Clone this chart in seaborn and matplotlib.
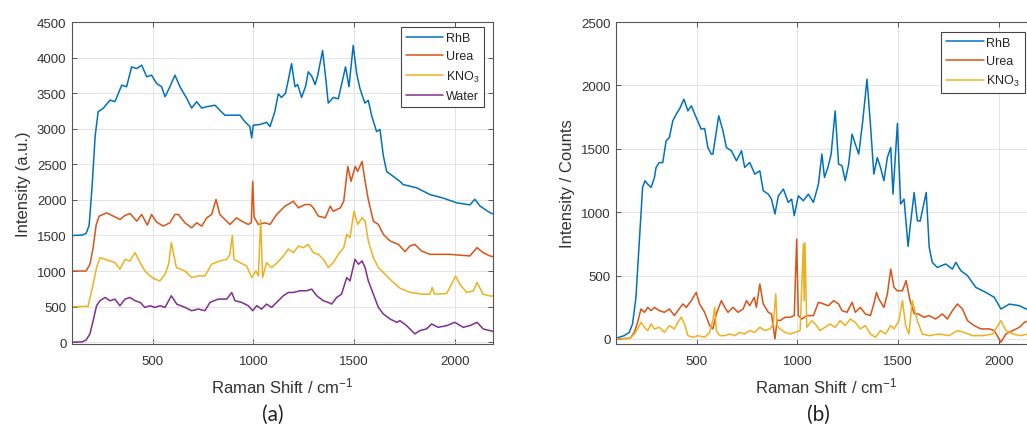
import numpy as np
import pandas as pd
import matplotlib
matplotlib.use("Agg")
import matplotlib.pyplot as plt
import seaborn as sns

# ---------------- Panel (a) data ----------------
shift_a_rhb = [100, 150, 170, 185, 200, 215, 230, 255, 289, 313, 347, 371, 396, 421, 446, 471, 495, 520, 545, 562, 586, 611, 636, 669, 694, 719, 744, 769, 810, 834, 859, 884, 934, 958, 983, 992, 1000, 1033, 1066, 1083, 1107, 1124, 1140, 1160, 1175, 1190, 1207, 1220, 1240, 1260, 1273, 1290, 1307, 1320, 1344, 1360, 1372, 1397, 1422, 1438, 1458, 1475, 1496, 1513, 1529, 1554, 1571, 1587, 1612, 1629, 1645, 1662, 1695, 1728, 1744, 1811, 1877, 1943, 2009, 2075, 2100, 2125, 2175, 2195]
int_a_rhb = [1500, 1505, 1530, 1640, 2200, 2900, 3240, 3287, 3403, 3380, 3613, 3590, 3869, 3846, 3893, 3730, 3753, 3636, 3590, 3450, 3590, 3753, 3590, 3430, 3290, 3380, 3290, 3310, 3330, 3260, 3190, 3190, 3190, 3100, 3030, 2870, 3050, 3060, 3090, 3030, 3240, 3490, 3440, 3500, 3700, 3915, 3590, 3620, 3440, 3600, 3800, 3740, 3620, 3750, 4100, 3700, 3360, 3440, 3420, 3620, 3870, 3590, 4170, 3780, 3570, 3360, 3400, 3190, 2960, 2990, 2630, 2400, 2330, 2260, 2215, 2170, 2075, 2025, 1960, 1930, 2010, 1915, 1820, 1800]

shift_a_urea = [100, 170, 189, 205, 220, 235, 272, 305, 338, 363, 388, 421, 446, 474, 495, 520, 553, 586, 611, 628, 661, 694, 719, 744, 769, 793, 815, 834, 859, 884, 917, 942, 975, 990, 997, 1004, 1025, 1058, 1083, 1116, 1157, 1199, 1224, 1257, 1282, 1298, 1323, 1357, 1382, 1397, 1432, 1449, 1469, 1485, 1506, 1518, 1540, 1555, 1571, 1596, 1621, 1646, 1679, 1721, 1753, 1777, 1802, 1835, 1877, 1976, 2075, 2111, 2141, 2175, 2195]
int_a_urea = [1000, 1000, 1096, 1329, 1650, 1772, 1818, 1772, 1725, 1781, 1809, 1702, 1795, 1646, 1795, 1688, 1632, 1678, 1795, 1795, 1678, 1608, 1678, 1632, 1748, 1795, 2005, 1795, 1725, 1655, 1748, 1702, 1655, 1680, 2261, 1760, 1655, 1678, 1655, 1795, 1911, 1981, 1888, 1935, 1935, 1888, 1772, 1748, 1911, 1841, 1888, 1981, 2471, 2261, 2471, 2401, 2541, 2261, 2005, 1702, 1655, 1515, 1422, 1375, 1273, 1352, 1375, 1282, 1235, 1235, 1212, 1329, 1259, 1212, 1200]

shift_a_kno3 = [100, 180, 205, 222, 239, 264, 289, 313, 338, 363, 388, 413, 438, 462, 487, 512, 537, 562, 580, 593, 618, 661, 677, 694, 727, 760, 793, 834, 868, 884, 896, 904, 934, 967, 992, 1013, 1025, 1037, 1046, 1066, 1090, 1120, 1149, 1174, 1199, 1224, 1249, 1273, 1298, 1323, 1348, 1372, 1397, 1422, 1449, 1464, 1480, 1500, 1518, 1540, 1555, 1571, 1596, 1621, 1654, 1695, 1728, 1777, 1843, 1877, 1888, 1900, 1960, 1984, 2004, 2025, 2059, 2092, 2111, 2141, 2175, 2195]
int_a_kno3 = [500, 505, 816, 1049, 1189, 1165, 1142, 1119, 1026, 1165, 1142, 1259, 1119, 1002, 932, 886, 862, 956, 1100, 1399, 1049, 1002, 956, 909, 932, 932, 1096, 1142, 1165, 1235, 1500, 1165, 1119, 1072, 909, 1002, 932, 1720, 909, 1119, 1049, 1119, 1210, 1310, 1259, 1352, 1329, 1375, 1259, 1235, 1165, 1049, 1119, 1235, 1329, 1515, 1469, 1841, 1655, 1748, 1702, 1422, 1189, 1049, 956, 840, 760, 700, 675, 675, 770, 675, 685, 815, 930, 815, 700, 720, 840, 675, 650, 650]

shift_a_water = [100, 150, 170, 189, 205, 222, 239, 264, 289, 313, 338, 363, 388, 413, 438, 462, 487, 512, 537, 562, 593, 620, 661, 694, 727, 760, 785, 826, 868, 893, 909, 942, 975, 997, 1017, 1041, 1066, 1091, 1116, 1149, 1174, 1199, 1232, 1265, 1290, 1315, 1348, 1372, 1389, 1414, 1438, 1464, 1480, 1505, 1522, 1540, 1555, 1571, 1596, 1621, 1646, 1679, 1712, 1728, 1761, 1802, 1827, 1860, 1885, 1918, 1960, 2000, 2042, 2075, 2111, 2141, 2175, 2195]
int_a_water = [0, 5, 30, 117, 303, 513, 583, 629, 583, 606, 513, 606, 629, 583, 560, 489, 513, 489, 513, 489, 653, 536, 489, 443, 466, 443, 560, 606, 606, 699, 583, 560, 513, 443, 513, 466, 536, 489, 560, 653, 699, 699, 723, 723, 746, 653, 583, 560, 536, 629, 676, 909, 862, 1165, 1096, 1142, 1049, 862, 676, 489, 396, 326, 280, 303, 233, 117, 163, 187, 256, 210, 233, 280, 210, 233, 280, 187, 163, 150]

# ---------------- Panel (b) data ----------------
shift_b_rhb = [100, 141, 166, 182, 199, 216, 232, 244, 257, 274, 291, 299, 315, 332, 349, 365, 382, 399, 415, 437, 457, 474, 498, 523, 540, 556, 573, 581, 610, 631, 648, 673, 698, 723, 739, 764, 789, 814, 831, 856, 872, 889, 906, 931, 955, 972, 985, 1005, 1030, 1055, 1080, 1105, 1122, 1135, 1152, 1168, 1188, 1205, 1222, 1238, 1255, 1272, 1288, 1305, 1325, 1346, 1363, 1380, 1397, 1413, 1430, 1447, 1464, 1475, 1497, 1513, 1530, 1550, 1560, 1580, 1596, 1610, 1640, 1655, 1670, 1695, 1737, 1770, 1787, 1812, 1845, 1886, 1936, 1978, 2011, 2053, 2103, 2136, 2195]
int_b_rhb = [5, 26, 52, 118, 328, 775, 1195, 1248, 1221, 1195, 1274, 1353, 1392, 1390, 1563, 1589, 1720, 1773, 1812, 1891, 1799, 1839, 1747, 1655, 1660, 1510, 1458, 1458, 1760, 1642, 1510, 1484, 1405, 1484, 1353, 1392, 1300, 1326, 1169, 1142, 1103, 985, 1129, 1182, 1077, 1103, 972, 1129, 1090, 1142, 1077, 1221, 1458, 1274, 1353, 1458, 1799, 1379, 1366, 1248, 1379, 1615, 1537, 1458, 1720, 2049, 1694, 1300, 1431, 1353, 1248, 1431, 1510, 1142, 1700, 1064, 1103, 730, 880, 1155, 932, 930, 1155, 722, 604, 564, 591, 551, 604, 538, 499, 407, 367, 328, 236, 275, 262, 236, 220]

shift_b_urea = [100, 170, 191, 207, 224, 241, 258, 274, 291, 315, 340, 365, 390, 407, 432, 449, 474, 498, 515, 540, 565, 581, 598, 623, 640, 656, 681, 706, 731, 748, 764, 786, 797, 814, 831, 856, 872, 889, 900, 914, 939, 964, 985, 997, 1005, 1022, 1047, 1080, 1105, 1130, 1155, 1180, 1205, 1222, 1247, 1272, 1288, 1313, 1338, 1363, 1380, 1393, 1405, 1430, 1447, 1464, 1480, 1497, 1522, 1540, 1560, 1580, 1600, 1629, 1654, 1687, 1720, 1745, 1770, 1795, 1820, 1845, 1878, 1911, 1953, 1978, 2011, 2036, 2070, 2103, 2128, 2160, 2195]
int_b_urea = [0, 5, 52, 131, 236, 210, 249, 223, 249, 223, 210, 236, 184, 223, 276, 249, 302, 367, 276, 210, 105, 79, 197, 302, 249, 210, 249, 210, 236, 302, 262, 328, 249, 433, 276, 210, 197, 0, 150, 144, 171, 171, 184, 787, 184, 157, 184, 184, 289, 276, 262, 302, 276, 223, 210, 289, 210, 249, 197, 184, 276, 367, 315, 249, 354, 551, 407, 380, 380, 460, 300, 200, 197, 171, 184, 157, 197, 157, 223, 276, 236, 144, 105, 79, 79, 66, -26, 39, 66, 92, 131, 150, 160]

shift_b_kno3 = [100, 170, 191, 207, 224, 241, 258, 274, 291, 315, 340, 365, 390, 407, 424, 440, 457, 482, 507, 540, 565, 582, 590, 598, 615, 640, 665, 690, 714, 739, 764, 789, 814, 839, 864, 881, 893, 900, 914, 939, 964, 989, 1014, 1030, 1034, 1038, 1047, 1072, 1089, 1113, 1138, 1163, 1188, 1213, 1238, 1263, 1288, 1313, 1338, 1363, 1388, 1413, 1438, 1464, 1480, 1505, 1522, 1538, 1554, 1571, 1596, 1621, 1654, 1704, 1754, 1795, 1828, 1870, 1920, 1970, 2011, 2036, 2070, 2111, 2145, 2195]
int_b_kno3 = [0, 5, 39, 79, 131, 92, 66, 118, 79, 92, 52, 105, 79, 131, 171, 118, 26, 13, 26, 13, 52, 157, 249, 66, 26, 26, 39, 26, 52, 39, 66, 52, 92, 66, 79, 118, 354, 105, 79, 52, 39, 52, 66, 750, 300, 760, 92, 144, 118, 66, 92, 118, 92, 144, 105, 157, 131, 79, 105, 39, 13, 66, 39, 105, 79, 144, 302, 105, 39, 302, 144, 39, 26, 39, 26, 66, 52, 26, 26, 39, 144, 66, 39, 26, 39, 30]

labels = ["RhB", "Urea", "KNO$_3$", "Water"]
colors = ["#0072BD", "#D95319", "#EDB120", "#7E2F8E"]
a_yticks = [0, 500, 1000, 1500, 2000, 2500, 3000, 3500, 4000, 4500]
b_yticks = [0, 500, 1000, 1500, 2000, 2500]
xticks = [500, 1000, 1500, 2000]

sns.set_style("whitegrid")
plt.rcParams["font.family"] = ["Liberation Sans", "DejaVu Sans"]
plt.rcParams["mathtext.fontset"] = "custom"
plt.rcParams["mathtext.rm"] = "Liberation Sans"
plt.rcParams["mathtext.it"] = "Liberation Sans"

W, H = 1027, 427
fig = plt.figure(figsize=(W / 100, H / 100), dpi=100)
ax_a = fig.add_axes([72 / W, (H - 345) / H, 421 / W, 322 / H])
ax_b = fig.add_axes([616 / W, (H - 345) / H, 421 / W, 322 / H])

def draw(ax, series, ylim, yticks, ylabel, leg_anchor):
    for (xs, ys), lab, col in series:
        df = pd.DataFrame({"shift": xs, "intensity": ys})
        sns.lineplot(data=df, x="shift", y="intensity", ax=ax, color=col, label=lab,
                     estimator=None, sort=False, linewidth=1.1)
    ax.set_xlim(100, 2190)
    ax.set_ylim(*ylim)
    ax.set_xticks(xticks)
    ax.set_yticks(yticks)
    ax.grid(True, color="#e3e3e3", linewidth=0.7)
    for s in ax.spines.values():
        s.set_visible(True)
        s.set_color("#555555")
        s.set_linewidth(0.8)
    ax.tick_params(direction="in", length=3.5, width=0.7, colors="#555555",
                   labelcolor="#333333", labelsize=9.5, top=True, right=True,
                   bottom=True, left=True, pad=4)
    ax.tick_params(axis="x", pad=8)
    ax.set_xlabel("Raman Shift / cm$^{-1}$", fontsize=12, color="#333333", labelpad=6)
    ax.set_ylabel(ylabel, fontsize=12, color="#333333", labelpad=4)
    leg = ax.legend(loc="upper right", bbox_to_anchor=leg_anchor, fontsize=9,
                    frameon=True, fancybox=False, edgecolor="#444444",
                    handlelength=3.0, handletextpad=0.2, labelspacing=0.5,
                    borderpad=0.4, borderaxespad=0.0)
    leg.get_frame().set_linewidth(0.8)
    leg.get_frame().set_facecolor("white")
    leg.get_frame().set_alpha(1.0)

series_a = [((shift_a_rhb, int_a_rhb), labels[0], colors[0]),
            ((shift_a_urea, int_a_urea), labels[1], colors[1]),
            ((shift_a_kno3, int_a_kno3), labels[2], colors[2]),
            ((shift_a_water, int_a_water), labels[3], colors[3])]
series_b = [((shift_b_rhb, int_b_rhb), labels[0], colors[0]),
            ((shift_b_urea, int_b_urea), labels[1], colors[1]),
            ((shift_b_kno3, int_b_kno3), labels[2], colors[2])]

draw(ax_a, series_a, (-25, 4500), a_yticks, "Intensity (a.u.)", (0.979, 0.984))
draw(ax_b, series_b, (-40, 2500), b_yticks, "Intensity / Counts", (0.971, 0.970))

fig.text(273 / W, 1 - 415 / H, "(a)", ha="center", va="center", fontsize=15,
         family=["Lato", "DejaVu Sans"], color="#222222")
fig.text(818 / W, 1 - 415 / H, "(b)", ha="center", va="center", fontsize=15,
         family=["Lato", "DejaVu Sans"], color="#222222")

fig.savefig("out.png", dpi=100)
